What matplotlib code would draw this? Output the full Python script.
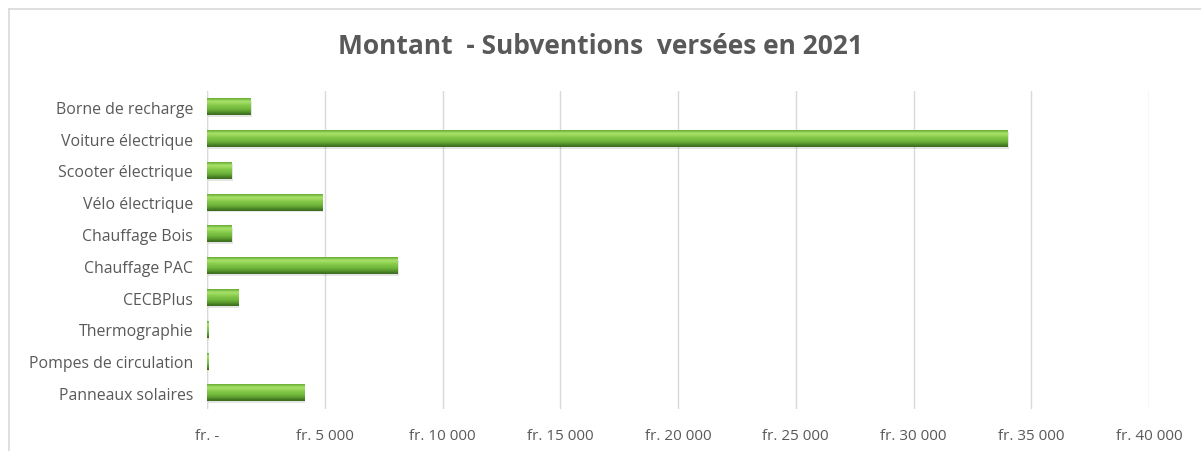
import numpy as np
import matplotlib
matplotlib.use("Agg")
import matplotlib.pyplot as plt
from matplotlib.lines import Line2D
from matplotlib.ticker import FuncFormatter

plt.rcParams['font.family'] = ['Open Sans', 'DejaVu Sans']

categories = ["Borne de recharge", "Voiture électrique", "Scooter électrique",
              "Vélo électrique", "Chauffage Bois", "Chauffage PAC", "CECBPlus",
              "Thermographie", "Pompes de circulation", "Panneaux solaires"]
values = [1850, 34000, 1050, 4900, 1050, 8100, 1320, 60, 60, 4120]
xticks = [0, 5000, 10000, 15000, 20000, 25000, 30000, 35000, 40000]
title = "Montant  - Subventions  versées en 2021"

def fmt(v, pos=None):
    if v == 0:
        return "fr. -"
    s = f"{int(v):,}".replace(",", " ")
    return f"fr. {s}"

fig = plt.figure(figsize=(12.01, 4.52), dpi=100)
ax = fig.add_axes([207/1201, 1-410/452, (1149-207)/1201, (410-92)/452])

txt = "#595959"
h = 0.52
# vertical gradient (top -> bottom)
grad_cols = np.array([
    [0x6b, 0xae, 0x38], [0x9c, 0xd9, 0x5e], [0xa8, 0xe0, 0x6c], [0x96, 0xd6, 0x58],
    [0x86, 0xcb, 0x4a], [0x7e, 0xc4, 0x44], [0x76, 0xbc, 0x3e], [0x6c, 0xb0, 0x38],
    [0x5e, 0x9e, 0x30], [0x4c, 0x86, 0x27], [0x3c, 0x6e, 0x1e]]) / 255.0
grad = grad_cols[:, None, :]

for i, v in enumerate(values):
    # soft shadow
    ax.barh(i + 0.06, v, height=h, left=40, color="#000000", alpha=0.10, zorder=2, linewidth=0)
    ax.imshow(grad, extent=[0, v, i + h/2, i - h/2], aspect="auto",
              interpolation="bicubic", zorder=3)

ax.set_xlim(0, 40000)
ax.set_ylim(len(categories) - 0.5, -0.5)
ax.set_aspect("auto")
ax.set_yticks(range(len(categories)))
ax.set_yticklabels(categories, fontsize=11.4, color=txt)
ax.set_xticks(xticks)
ax.xaxis.set_major_formatter(FuncFormatter(fmt))
ax.tick_params(axis="x", labelsize=11, labelcolor=txt, length=0, pad=14)
ax.tick_params(axis="y", length=0, pad=10)
ax.grid(axis="x", color="#d9d9d9", linewidth=1, zorder=0)
ax.set_axisbelow(True)
for s in ax.spines.values():
    s.set_visible(False)
ax.axvline(0, color="#d9d9d9", linewidth=1, zorder=1)

fig.text(0.5, 1-47/452, title, ha="center", va="center", fontsize=19,
         fontweight="bold", color=txt)

# outer chart border (top and left)
fig.add_artist(Line2D([9/1201, 1], [1-10/452, 1-10/452], transform=fig.transFigure,
                      color="#d9d9d9", linewidth=1.2))
fig.add_artist(Line2D([9/1201, 9/1201], [0, 1-10/452], transform=fig.transFigure,
                      color="#d9d9d9", linewidth=1.2))

fig.savefig("out.png", dpi=100)
